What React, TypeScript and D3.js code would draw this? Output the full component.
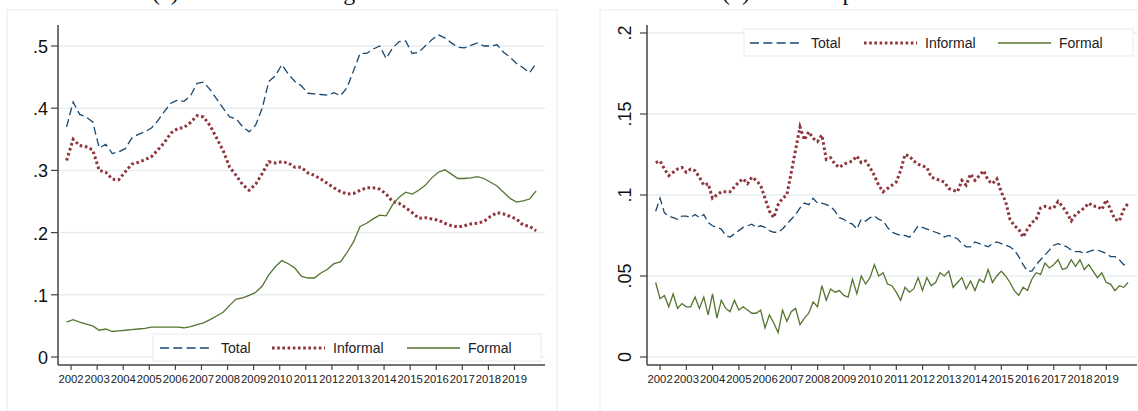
import React, { useEffect, useRef } from 'react';
import * as d3 from 'd3';

// Panel (a): quarterly, smoothed shares, starting late 2001
const leftStart = 2001.83;
const leftTotal = [
  0.37, 0.41, 0.39, 0.386, 0.378, 0.336, 0.342, 0.327, 0.33, 0.335, 0.352, 0.358, 0.362, 0.368, 0.38, 0.395,
  0.408, 0.413, 0.411, 0.42, 0.44, 0.442, 0.43, 0.415, 0.4, 0.386, 0.383, 0.37, 0.362, 0.373, 0.4, 0.443,
  0.452, 0.47, 0.455, 0.443, 0.436, 0.424, 0.423, 0.422, 0.421, 0.425, 0.42, 0.433, 0.46, 0.488, 0.488, 0.495,
  0.5, 0.48, 0.497, 0.507, 0.508, 0.488, 0.49, 0.5, 0.51, 0.518, 0.513, 0.505, 0.498, 0.497, 0.501, 0.505,
  0.5, 0.5, 0.502, 0.49, 0.482, 0.472, 0.465, 0.457, 0.472,
];
const leftInformal = [
  0.316, 0.35, 0.34, 0.338, 0.333, 0.3, 0.297, 0.286, 0.285, 0.298, 0.31, 0.313, 0.317, 0.322, 0.333, 0.345,
  0.36, 0.367, 0.369, 0.377, 0.388, 0.386, 0.372, 0.352, 0.332, 0.305, 0.292, 0.277, 0.268, 0.278, 0.295, 0.314,
  0.312, 0.314, 0.312, 0.305, 0.305, 0.296, 0.292, 0.286, 0.279, 0.272, 0.266, 0.262, 0.263, 0.268, 0.272, 0.272,
  0.27, 0.262, 0.25, 0.247, 0.24, 0.232, 0.223, 0.224, 0.222, 0.22, 0.215, 0.211, 0.209, 0.211, 0.214, 0.215,
  0.218, 0.226, 0.232, 0.23, 0.226, 0.222, 0.212, 0.21, 0.203,
];
const leftFormal = [
  0.056, 0.06, 0.056, 0.053, 0.05, 0.043, 0.045, 0.041, 0.042, 0.043, 0.044, 0.045, 0.046, 0.048, 0.048, 0.048,
  0.048, 0.048, 0.047, 0.049, 0.052, 0.055, 0.06, 0.066, 0.072, 0.083, 0.093, 0.095, 0.099, 0.104, 0.114, 0.132,
  0.145, 0.155, 0.15, 0.143, 0.13, 0.127, 0.127, 0.135, 0.141, 0.15, 0.153, 0.168, 0.185, 0.21, 0.215, 0.222,
  0.228, 0.227, 0.245, 0.257, 0.265, 0.262, 0.268, 0.276, 0.288, 0.297, 0.301, 0.294, 0.287, 0.287, 0.288, 0.29,
  0.287, 0.281, 0.275, 0.265, 0.255, 0.249, 0.251, 0.254, 0.267,
];

// Panel (b): bimonthly, noisier shares
const rightStart = 2001.83;
const rightTotal = [
  0.09, 0.098, 0.089, 0.087, 0.086, 0.085, 0.087, 0.087, 0.086, 0.088, 0.086, 0.088, 0.083, 0.081, 0.08, 0.079,
  0.075, 0.074, 0.076, 0.078, 0.08, 0.081, 0.082, 0.08, 0.081, 0.08, 0.078, 0.077, 0.077, 0.079, 0.082, 0.085,
  0.088, 0.092, 0.095, 0.094, 0.098, 0.095, 0.095, 0.094, 0.093, 0.09, 0.086, 0.085, 0.083, 0.082, 0.079, 0.085,
  0.084, 0.086, 0.087, 0.085, 0.084, 0.08, 0.077, 0.076, 0.075, 0.075, 0.074, 0.077, 0.081, 0.08, 0.079, 0.078,
  0.077, 0.076, 0.074, 0.075, 0.074, 0.073, 0.07, 0.068, 0.068, 0.071, 0.07, 0.069, 0.068, 0.07, 0.071, 0.07,
  0.069, 0.068, 0.066, 0.062, 0.057, 0.053, 0.053, 0.057, 0.06, 0.063, 0.066, 0.069, 0.07, 0.069, 0.068, 0.066,
  0.065, 0.065, 0.064, 0.065, 0.066, 0.066, 0.065, 0.064, 0.062, 0.062, 0.06, 0.057, 0.056,
];
const rightInformal = [
  0.12, 0.121, 0.116, 0.112, 0.114, 0.116, 0.117, 0.114, 0.116, 0.115, 0.111, 0.106, 0.107, 0.098, 0.1, 0.102,
  0.102, 0.102, 0.105, 0.108, 0.11, 0.107, 0.111, 0.109, 0.106, 0.098, 0.09, 0.086, 0.094, 0.098, 0.1, 0.114,
  0.128, 0.142, 0.134, 0.139, 0.135, 0.133, 0.137, 0.122, 0.123, 0.119, 0.117, 0.119, 0.12, 0.121, 0.124, 0.12,
  0.121, 0.117, 0.112, 0.106, 0.102, 0.104, 0.106, 0.108, 0.115, 0.125, 0.124, 0.121, 0.119, 0.118, 0.117, 0.111,
  0.11, 0.109, 0.108, 0.104, 0.103, 0.102, 0.109, 0.106, 0.113, 0.109, 0.112, 0.115, 0.109, 0.107, 0.11, 0.102,
  0.096, 0.085, 0.081, 0.079, 0.074, 0.079, 0.083, 0.085, 0.092, 0.093, 0.092, 0.092, 0.096, 0.093, 0.089, 0.084,
  0.088, 0.09, 0.092, 0.095, 0.093, 0.093, 0.091, 0.097, 0.091, 0.085, 0.084, 0.091, 0.095,
];
const rightFormal = [
  0.046, 0.036, 0.038, 0.031, 0.039, 0.03, 0.033, 0.031, 0.031, 0.037, 0.03, 0.037, 0.026, 0.039, 0.024, 0.035,
  0.03, 0.028, 0.035, 0.029, 0.031, 0.029, 0.027, 0.027, 0.029, 0.018, 0.026, 0.021, 0.015, 0.029, 0.022, 0.028,
  0.03, 0.02, 0.024, 0.027, 0.034, 0.031, 0.044, 0.035, 0.042, 0.04, 0.041, 0.038, 0.037, 0.048, 0.039, 0.05,
  0.045, 0.049, 0.057, 0.05, 0.052, 0.045, 0.044, 0.04, 0.035, 0.043, 0.04, 0.042, 0.049, 0.041, 0.049, 0.044,
  0.046, 0.052, 0.05, 0.053, 0.043, 0.046, 0.049, 0.042, 0.047, 0.041, 0.048, 0.046, 0.054, 0.046, 0.05, 0.053,
  0.05, 0.046, 0.041, 0.038, 0.043, 0.041, 0.048, 0.052, 0.051, 0.058, 0.055, 0.057, 0.06, 0.054, 0.055, 0.06,
  0.056, 0.06, 0.054, 0.057, 0.053, 0.049, 0.052, 0.046, 0.045, 0.041, 0.044, 0.043, 0.046,
];

const years = d3.range(2002, 2020);
const leftTicks = [0, 0.1, 0.2, 0.3, 0.4, 0.5];
const leftTickLabels = ['0', '.1', '.2', '.3', '.4', '.5'];
const rightTicks = [0, 0.05, 0.1, 0.15, 0.2];
const rightTickLabels = ['0', '.05', '.1', '.15', '.2'];
const seriesNames = ['Total', 'Informal', 'Formal'];

const COLORS = { Total: '#1a476f', Informal: '#90353b', Formal: '#55752f' };
const SANS = '"Liberation Sans", Arial, Helvetica, sans-serif';
const GRID = '#e6eef1';

type Panel = {
  x0: number; x1: number; yTop: number; yZero: number; yMaxVal: number; yMaxPx: number; axisY: number;
  frame: [number, number]; title: string; titleX: number;
  ticks: number[]; tickLabels: string[]; rotateY: boolean;
  start: number; step: number; series: number[][];
  legend: { x: number; y: number; w: number; items: number[] };
};

const App: React.FC = () => {
  const svgRef = useRef<SVGSVGElement>(null);

  useEffect(() => {
    if (!svgRef.current) return;
    const svg = d3.select(svgRef.current);
    svg.selectAll('*').remove();

    const panels: Panel[] = [
      {
        x0: 58, x1: 545, yTop: 25, yZero: 357, yMaxVal: 0.5, yMaxPx: 46, axisY: 365,
        frame: [7, 557], title: '(a) Share of low-wage workers', titleX: 152,
        ticks: leftTicks, tickLabels: leftTickLabels, rotateY: false,
        start: leftStart, step: 0.25, series: [leftTotal, leftInformal, leftFormal],
        legend: { x: 153, y: 334, w: 388, items: [160, 272, 407] },
      },
      {
        x0: 647, x1: 1137, yTop: 25, yZero: 357, yMaxVal: 0.2, yMaxPx: 33, axisY: 365,
        frame: [600, 1150], title: '(b) Share of poor', titleX: 722,
        ticks: rightTicks, tickLabels: rightTickLabels, rotateY: true,
        start: rightStart, step: 1 / 6, series: [rightTotal, rightInformal, rightFormal],
        legend: { x: 744, y: 29, w: 389, items: [750, 864, 998] },
      },
    ];

    panels.forEach((p) => {
      // outer frame
      svg.append('rect')
        .attr('x', p.frame[0]).attr('y', 10)
        .attr('width', p.frame[1] - p.frame[0]).attr('height', 420)
        .attr('fill', '#fff').attr('stroke', GRID).attr('stroke-width', 1.2);

      // panel title, mostly above the visible area as in the source figure
      svg.append('text')
        .attr('x', p.titleX).attr('y', -0.5)
        .attr('font-family', '"Liberation Serif", "Times New Roman", serif')
        .attr('font-size', 24).attr('fill', '#111')
        .text(p.title);

      const x = d3.scaleLinear().domain([2001.5, 2020.17]).range([p.x0, p.x1]);
      const y = d3.scaleLinear().domain([0, p.yMaxVal]).range([p.yZero, p.yMaxPx]);

      // gridlines
      svg.append('g').selectAll('line').data(p.ticks).enter().append('line')
        .attr('x1', p.x0).attr('x2', p.x1)
        .attr('y1', (d) => y(d)).attr('y2', (d) => y(d))
        .attr('stroke', GRID).attr('stroke-width', 1.5);

      // y axis
      svg.append('line')
        .attr('x1', p.x0).attr('x2', p.x0).attr('y1', p.yTop).attr('y2', p.axisY)
        .attr('stroke', '#444').attr('stroke-width', 1.5);
      p.ticks.forEach((t, i) => {
        svg.append('line')
          .attr('x1', p.x0 - 7).attr('x2', p.x0).attr('y1', y(t)).attr('y2', y(t))
          .attr('stroke', '#444').attr('stroke-width', 1.2);
        const lbl = svg.append('text')
          .attr('font-family', SANS).attr('font-size', 18).attr('fill', '#111')
          .attr('dominant-baseline', 'central')
          .text(p.tickLabels[i]);
        if (p.rotateY) {
          lbl.attr('text-anchor', 'middle')
            .attr('transform', `translate(${p.x0 - 22},${y(t)}) rotate(-90)`);
        } else {
          lbl.attr('text-anchor', 'end').attr('x', p.x0 - 10).attr('y', y(t) + 1);
        }
      });

      // x axis
      svg.append('line')
        .attr('x1', p.x0).attr('x2', p.x1).attr('y1', p.axisY).attr('y2', p.axisY)
        .attr('stroke', '#444').attr('stroke-width', 1.5);
      years.forEach((yr) => {
        svg.append('line')
          .attr('x1', x(yr)).attr('x2', x(yr)).attr('y1', p.axisY).attr('y2', p.axisY + 5)
          .attr('stroke', '#444').attr('stroke-width', 1.2);
        svg.append('text')
          .attr('x', x(yr)).attr('y', p.axisY + 18)
          .attr('text-anchor', 'middle')
          .attr('font-family', SANS).attr('font-size', 11.3).attr('fill', '#222')
          .text(String(yr));
      });

      // lines
      p.series.forEach((vals, si) => {
        const name = seriesNames[si];
        const line = d3.line<number>()
          .x((_, i) => x(p.start + i * p.step))
          .y((d) => y(d));
        const path = svg.append('path')
          .datum(vals)
          .attr('d', line)
          .attr('fill', 'none')
          .attr('stroke', COLORS[name as keyof typeof COLORS]);
        if (name === 'Total') path.attr('stroke-width', 1.3).attr('stroke-dasharray', '8 4');
        if (name === 'Informal') path.attr('stroke-width', 3).attr('stroke-dasharray', '2.6 2.6');
        if (name === 'Formal') path.attr('stroke-width', 1.3);
      });

      // legend
      const lg = p.legend;
      svg.append('rect')
        .attr('x', lg.x).attr('y', lg.y).attr('width', lg.w).attr('height', 27)
        .attr('fill', '#fff').attr('stroke', GRID).attr('stroke-width', 1.2);
      seriesNames.forEach((name, i) => {
        const lx = lg.items[i];
        const cy = lg.y + 14;
        const l = svg.append('line')
          .attr('x1', lx).attr('x2', lx + 53).attr('y1', cy).attr('y2', cy)
          .attr('stroke', COLORS[name as keyof typeof COLORS]);
        if (name === 'Total') l.attr('stroke-width', 1.3).attr('stroke-dasharray', '9 4.3');
        if (name === 'Informal') l.attr('stroke-width', 3).attr('stroke-dasharray', '2.6 2.6');
        if (name === 'Formal') l.attr('stroke-width', 1.3);
        svg.append('text')
          .attr('x', lx + 61).attr('y', cy)
          .attr('dominant-baseline', 'central')
          .attr('font-family', SANS).attr('font-size', 14).attr('fill', '#222')
          .text(name);
      });
    });
  }, []);

  return (
    <svg
      ref={svgRef}
      width={1138}
      height={411}
      style={{ position: 'absolute', left: 0, top: 0, background: '#fff', overflow: 'hidden' }}
    />
  );
};

export default App;
